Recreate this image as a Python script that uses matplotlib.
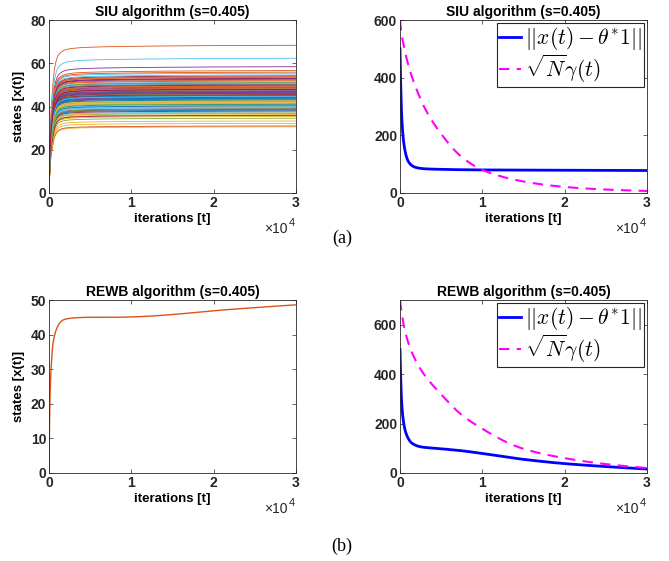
import numpy as np
from matplotlib import pyplot as plt

plt.rcParams['font.family'] = ['Liberation Sans', 'DejaVu Sans']
plt.rcParams['font.weight'] = 'bold'
plt.rcParams['axes.labelweight'] = 'bold'
plt.rcParams['axes.titleweight'] = 'bold'

# MATLAB default colour order
matlab_colors = ['#0072BD', '#D95319', '#EDB120', '#7E2F8E', '#77AC30', '#4DBEEE', '#A2142F']

# SIU states: common rise profile and final value of each node
siu_t = [0, 100, 200, 400, 700, 1100, 1500, 2000, 3000, 5000, 10000, 20000, 30000]
siu_frac = [0, 0.30, 0.50, 0.68, 0.85, 0.93, 0.955, 0.97, 0.98, 0.987, 0.993, 0.998, 1.0]
siu_final = [45.2, 68.3, 40.1, 58.4, 47.6, 62.3, 50.3,
             44.0, 53.5, 36.2, 49.1, 42.3, 55.4, 38.7,
             46.4, 51.8, 30.6, 43.5, 48.2, 39.5, 54.2,
             41.0, 47.0, 33.3, 52.6, 45.8, 37.4, 50.9,
             44.6, 56.6, 35.4, 48.7, 42.9, 40.6, 53.0,
             46.9, 31.0, 49.6, 39.0, 44.9, 51.3, 37.9,
             43.1, 55.9, 41.7, 47.3, 34.6, 50.0, 45.5,
             38.3, 52.2, 42.0, 48.0, 36.8, 54.6, 46.1,
             40.3, 49.4, 32.2, 44.3, 51.0, 39.8, 47.9,
             43.8, 53.8, 37.0, 46.6, 41.3, 50.6, 35.9,
             45.0, 48.5, 42.6, 52.9, 38.9, 44.7, 49.9]

# SIU error and bound
siu_err_t = [0, 100, 200, 500, 1000, 1500, 2000, 3000, 5000, 10000, 20000, 30000]
siu_err = [500, 360, 270, 165, 110, 94, 88, 84, 82, 80, 79, 78]
siu_bnd_t = [0, 500, 1000, 2000, 3000, 5000, 7500, 10000, 15000, 20000, 25000, 30000]
siu_bnd = [600, 505, 445, 360, 295, 205, 125, 80, 40, 21, 12, 7]

# REWB states
rewb_t = [0, 50, 160, 300, 490, 700, 890, 1200, 1700, 2500, 3500, 5000, 8000, 10000, 12000, 15000, 20000, 25000, 30000]
rewb_x = [0, 12, 25, 32, 37.6, 40.0, 41.5, 43.0, 44.2, 44.7, 44.9, 45.0, 45.0, 45.1, 45.3, 45.8, 46.9, 47.8, 48.6]

# REWB error and bound
rewb_err_t = [0, 100, 200, 600, 1000, 1400, 2500, 5000, 7500, 10000, 14800, 20000, 25000, 30000]
rewb_err = [500, 370, 285, 176, 140, 122, 106, 98, 90, 79, 56, 38, 26, 16]
rewb_bnd_t = [0, 200, 500, 1000, 2500, 5000, 7500, 10000, 14800, 20000, 25000, 30000]
rewb_bnd = [700, 650, 590, 528, 420, 318, 235, 179, 100, 60, 36, 20]


def pchip(x, y, xq):
    # monotone cubic interpolation in log1p(t) space so the curves stay smooth
    x = np.log1p(np.asarray(x, float) / 200)
    xq = np.log1p(np.asarray(xq, float) / 200)
    y = np.asarray(y, float)
    hh = np.diff(x)
    d = np.diff(y) / hh
    m = np.zeros_like(y)
    for k in range(1, len(x) - 1):
        if d[k - 1] * d[k] > 0:
            w1 = 2 * hh[k] + hh[k - 1]
            w2 = hh[k] + 2 * hh[k - 1]
            m[k] = (w1 + w2) / (w1 / d[k - 1] + w2 / d[k])
    m[0], m[-1] = d[0], d[-1]
    i = np.clip(np.searchsorted(x, xq) - 1, 0, len(hh) - 1)
    s = (xq - x[i]) / hh[i]
    return ((2 * s**3 - 3 * s**2 + 1) * y[i] + (s**3 - 2 * s**2 + s) * hh[i] * m[i]
            + (-2 * s**3 + 3 * s**2) * y[i + 1] + (s**3 - s**2) * hh[i] * m[i + 1])


fig = plt.figure(figsize=(6.69, 5.61), dpi=100)
w, h = 247 / 669, 173 / 561
ax1 = fig.add_axes([49 / 669, 1 - 193 / 561, w, h])
ax2 = fig.add_axes([400 / 669, 1 - 193 / 561, w, h])
ax3 = fig.add_axes([49 / 669, 1 - 473 / 561, w, h])
ax4 = fig.add_axes([400 / 669, 1 - 473 / 561, w, h])

tt = np.linspace(0, 30000, 3000)
prof = pchip(siu_t, siu_frac, tt)
for i, v in enumerate(siu_final):
    ax1.plot(tt, v * prof, color=matlab_colors[i % 7], lw=0.6)
ax1.set_ylim(0, 80)
ax1.set_yticks([0, 20, 40, 60, 80])
ax1.set_ylabel('states [x(t)]', fontsize=9.5)

ax3.plot(tt, pchip(rewb_t, rewb_x, tt), color='#D95319', lw=1.0)
ax3.set_ylim(0, 50)
ax3.set_yticks([0, 10, 20, 30, 40, 50])
ax3.set_ylabel('states [x(t)]', fontsize=9.5)

leg_labels = [r'$||x(t)-\theta^{*}\mathbf{1}||$', r'$\sqrt{N}\gamma(t)$']
for ax, et, ev, bt, bv, top in [(ax2, siu_err_t, siu_err, siu_bnd_t, siu_bnd, 600),
                               (ax4, rewb_err_t, rewb_err, rewb_bnd_t, rewb_bnd, 700)]:
    ax.plot(tt, pchip(et, ev, tt), color='#0000FF', lw=2, label=leg_labels[0])
    ax.plot(tt, pchip(bt, bv, tt), color='#FF00FF', lw=1.5, dashes=(5, 3.5), label=leg_labels[1])
    ax.set_ylim(0, top)
    ax.set_yticks([0, 200, 400, 600])
    leg = ax.legend(loc='upper right', fancybox=False, framealpha=1, borderaxespad=0.15,
                    prop={'size': 15.5, 'math_fontfamily': 'cm'}, handlelength=1.05,
                    handletextpad=0.15, borderpad=0.1, labelspacing=0.0)
    leg.get_frame().set_edgecolor('#262626')
    leg.get_frame().set_linewidth(0.8)

titles = ['SIU algorithm (s=0.405)', 'SIU algorithm (s=0.405)',
          'REWB algorithm (s=0.405)', 'REWB algorithm (s=0.405)']
for ax, ttl in zip([ax1, ax2, ax3, ax4], titles):
    ax.set_xlim(0, 30000)
    ax.set_xticks([0, 10000, 20000, 30000])
    ax.set_xticklabels(['0', '1', '2', '3'])
    ax.set_title(ttl, fontsize=10, pad=3)
    ax.set_xlabel('iterations [t]', fontsize=9.5, labelpad=2)
    ax.tick_params(direction='in', top=True, right=True, length=3, width=0.5,
                   labelsize=10, colors='#262626', pad=2)
    for sp in ax.spines.values():
        sp.set_color('#262626')
        sp.set_linewidth(0.6)
    # exponent label "x10^4" in MATLAB style
    ax.annotate('4', (1.0, -0.23), xycoords='axes fraction', xytext=(-1, 5),
                textcoords='offset points', ha='right', va='baseline',
                fontsize=8, color='#262626', weight='normal')
    ax.annotate('×10', (1.0, -0.23), xycoords='axes fraction', xytext=(-6, 0),
                textcoords='offset points', ha='right', va='baseline',
                fontsize=10, color='#262626', weight='normal')

fig.text(342 / 669, 1 - 238 / 561, '(a)', ha='center', va='center',
         fontsize=13, family='Liberation Serif', weight='normal')
fig.text(342 / 669, 1 - 546 / 561, '(b)', ha='center', va='center',
         fontsize=13, family='Liberation Serif', weight='normal')

fig.savefig('out.png', dpi=100)
